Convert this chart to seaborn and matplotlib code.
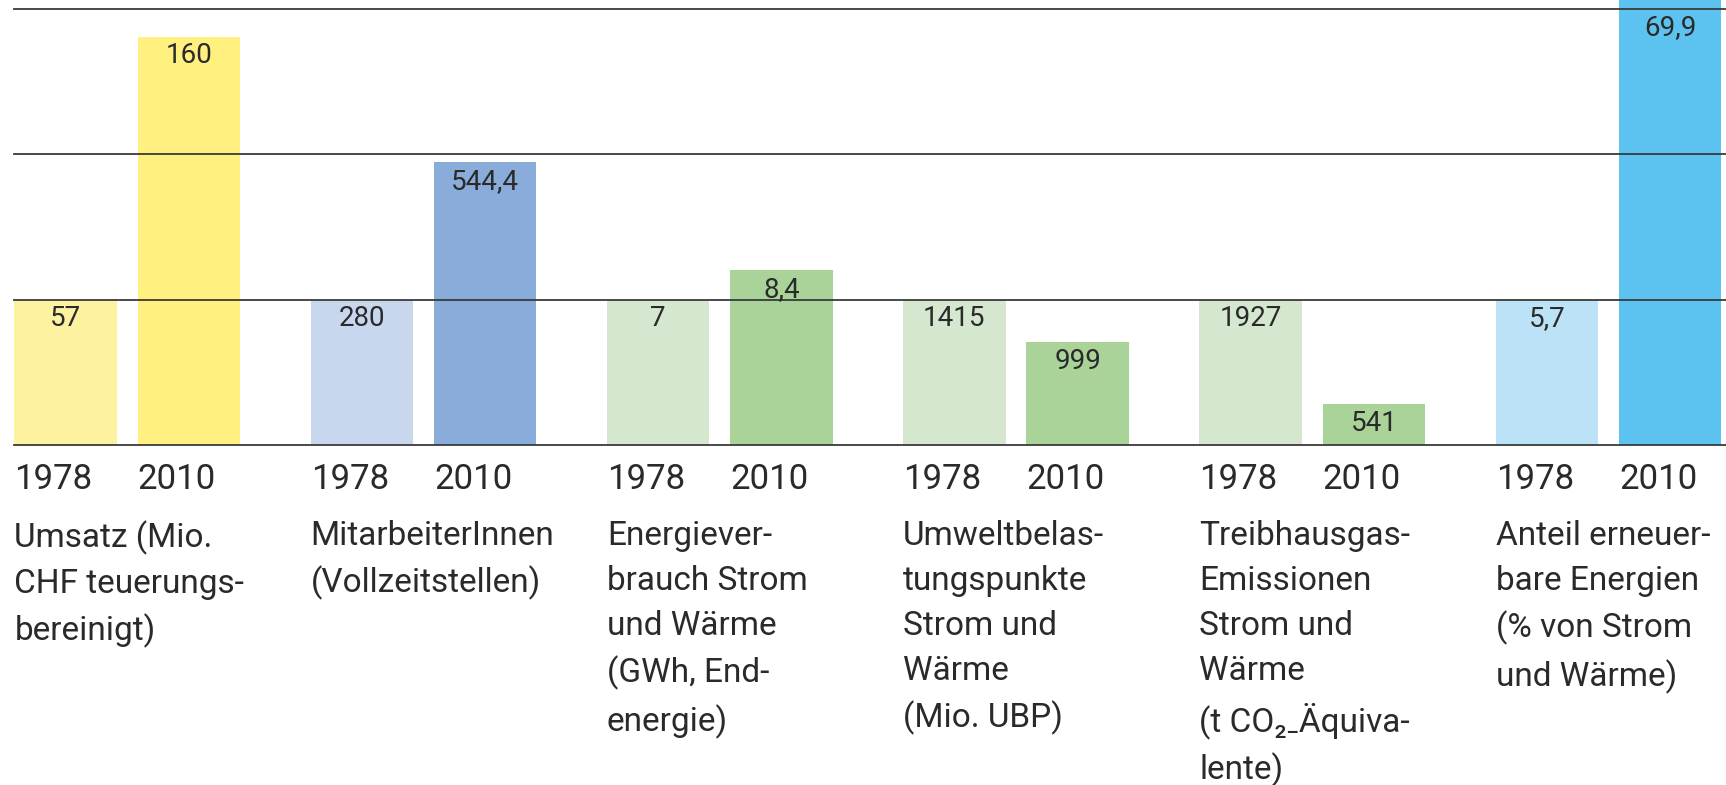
import numpy as np
import pandas as pd
import matplotlib
matplotlib.use("Agg")
import matplotlib.pyplot as plt
import seaborn as sns

# ── data ──────────────────────────────────────────────────────────────────────
categories = [
    "Umsatz (Mio.\nCHF teuerungs-\nbereinigt)",
    "MitarbeiterInnen\n(Vollzeitstellen)",
    "Energiever-\nbrauch Strom\nund Wärme\n(GWh, End-\nenergie)",
    "Umweltbelas-\ntungspunkte\nStrom und\nWärme\n(Mio. UBP)",
    "Treibhausgas-\nEmissionen\nStrom und\nWärme\n(t CO\u2082\u208bÄquiva-\nlente)",
    "Anteil erneuer-\nbare Energien\n(% von Strom\nund Wärme)",
]
years = ["1978", "2010"]
values_1978 = [57, 280, 7, 1415, 1927, 5.7]
values_2010 = [160, 544.4, 8.4, 999, 541, 69.9]
labels_1978 = ["57", "280", "7", "1415", "1927", "5,7"]
labels_2010 = ["160", "544,4", "8,4", "999", "541", "69,9"]
colors_1978 = ["#FCF2A0", "#C8D7EE", "#D5E8CF", "#D5E8CF", "#D5E8CF", "#BCE2F8"]
colors_2010 = ["#FFF07F", "#8AACDB", "#AAD39A", "#AAD39A", "#AAD39A", "#5CC3F1"]

# index: 1978 = 100
rows = []
for g in range(len(categories)):
    base = values_1978[g]
    for j, (v, lab, col) in enumerate([(values_1978[g], labels_1978[g], colors_1978[g]),
                                       (values_2010[g], labels_2010[g], colors_2010[g])]):
        rows.append({"key": f"{g}-{j}", "pos": g * 2.403 + j,
                     "index": v / base * 100, "label": lab, "color": col})
df = pd.DataFrame(rows)

W, H = 1726, 785
plt.rcParams["font.family"] = ["Roboto", "DejaVu Sans"]
fig = plt.figure(figsize=(W / 100, H / 100), dpi=100)
ax_left, base_px = 14.3, 445
ax = fig.add_axes([ax_left / W, 1 - base_px / H, 1 - ax_left / W, base_px / H])

sns.barplot(data=df, x="pos", y="index", hue="key",
            palette=dict(zip(df["key"], df["color"])),
            native_scale=True, dodge=False, width=0.83, errorbar=None,
            legend=False, saturation=1, ax=ax)

ymax = base_px / 145.5 * 100
ax.set_ylim(0, ymax)
ax.set_xlim(-0.415, -0.415 + (W - ax_left) / 123.3)
for yv in [0, 100, 200, 300]:
    ax.axhline(yv, color="#3a3a3a", lw=1.3, zorder=5, clip_on=False)
ax.set_axis_off()

txt = "#2a2a2a"
for _, r in df.iterrows():
    ytop = min(r["index"], 300)
    ax.text(r["pos"], ytop - 4.0, r["label"], ha="center", va="top",
            fontsize=20, color=txt, zorder=6)

xt = ax.get_xaxis_transform()
for _, r in df.iterrows():
    yr = years[int(r["key"].split("-")[1])]
    ax.text(r["pos"] - 0.415, -18 / base_px, yr, ha="left", va="top",
            fontsize=25, color=txt, transform=xt, clip_on=False)

for g, cat in enumerate(categories):
    ax.text(g * 2.403 - 0.415, -75 / base_px, cat, ha="left", va="top",
            fontsize=24, color=txt, linespacing=1.52, transform=xt, clip_on=False)

fig.savefig("out.png", dpi=100, facecolor="white")
